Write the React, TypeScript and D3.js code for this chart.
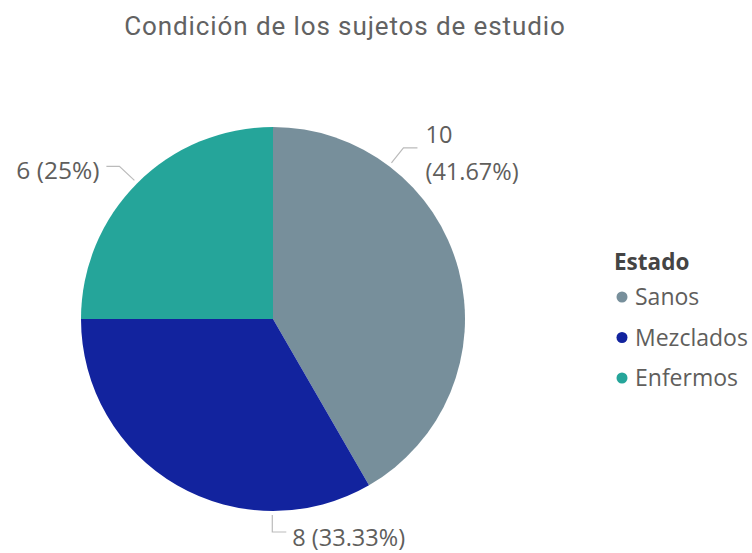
import React from "react";
import * as d3 from "d3";

const categories = ["Sanos", "Mezclados", "Enfermos"];
const values = [10, 8, 6];
const percentLabels = ["41.67%", "33.33%", "25%"];
const colors = ["#778F9B", "#12239E", "#25A59A"];
const title = "Condición de los sujetos de estudio";
const legendTitle = "Estado";

const W = 752, H = 553;
const cx = 273, cy = 319, R = 192;

export default function App() {
  const pie = d3.pie<number>().sort(null).value((d) => d)(values);
  const arc = d3.arc<d3.PieArcDatum<number>>().innerRadius(0).outerRadius(R);
  const labelColor = "#605E5C";
  const font = "'Open Sans', sans-serif";
  const pt = (ang: number, r: number) => [cx + r * Math.sin(ang), cy - r * Math.cos(ang)];

  // leader line anchor angles per slice (Power BI shifts labels to avoid clipping)
  const anchorShift = [-0.66, -0.52, 0];

  return (
    <svg width={W} height={H} style={{ position: "absolute", left: 0, top: 0, background: "#fff" }}>
      <text x={345} y={35} textAnchor="middle" fontFamily="Roboto, sans-serif" fontSize={26} fill="#626262" letterSpacing={0.9}>
        {title}
      </text>
      <g transform={`translate(${cx},${cy})`}>
        {pie.map((p, i) => (
          <path key={i} d={arc(p) || ""} fill={colors[i]} />
        ))}
      </g>
      {pie.map((p, i) => {
        const mid = (p.startAngle + p.endAngle) / 2 + anchorShift[i];
        const [x0, y0] = pt(mid, R + 4);
        const fs = 23.5;
        if (i === 0) {
          const x1 = x0 + 12, y1 = y0 - 15;
          return (
            <g key={i}>
              <polyline points={`${x0},${y0} ${x1},${y1} ${x1 + 14},${y1}`} fill="none" stroke="#bbb" strokeWidth={1.2} />
              <text x={x1 + 22} y={y1 - 5} fontFamily={font} fontSize={fs} fill={labelColor}>{values[i]}</text>
              <text x={x1 + 22} y={y1 + 32} fontFamily={font} fontSize={fs} fill={labelColor}>({percentLabels[i]})</text>
            </g>
          );
        } else if (i === 1) {
          const x1 = x0, y1 = y0 + 17;
          return (
            <g key={i}>
              <polyline points={`${x0},${y0} ${x1},${y1} ${x1 + 14},${y1}`} fill="none" stroke="#bbb" strokeWidth={1.2} />
              <text x={x1 + 20} y={y1 + 14} fontFamily={font} fontSize={fs} fill={labelColor}>{values[i]} ({percentLabels[i]})</text>
            </g>
          );
        } else {
          const x1 = x0 - 15, y1 = y0 - 14;
          return (
            <g key={i}>
              <polyline points={`${x0},${y0} ${x1},${y1} ${x1 - 13},${y1}`} fill="none" stroke="#bbb" strokeWidth={1.2} />
              <text x={x1 - 20} y={y1 + 13} textAnchor="end" fontFamily={font} fontSize={24.5} fill={labelColor}>{values[i]} ({percentLabels[i]})</text>
            </g>
          );
        }
      })}
      <g>
        <text x={614} y={270} fontFamily={font} fontWeight={700} fontSize={22.5} fill="#444">{legendTitle}</text>
        {categories.map((c, i) => (
          <g key={c} transform={`translate(0,${297 + i * 40.5})`}>
            <circle cx={622} cy={0} r={5.5} fill={colors[i]} />
            <text x={635} y={8} fontFamily={font} fontSize={23} fill={labelColor}>{c}</text>
          </g>
        ))}
      </g>
    </svg>
  );
}
